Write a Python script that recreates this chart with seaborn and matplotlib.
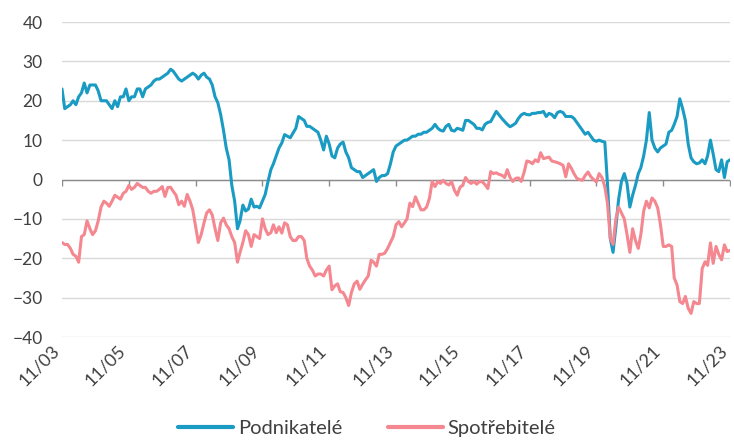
import pandas as pd
import seaborn as sns
import matplotlib.pyplot as plt

# monthly balances, 11/2003 .. 11/2023 (one row = 12 months starting in November)
podnikatele = [
    23, 18, 18.5, 19, 20, 19, 21, 22, 24.5, 22, 24, 24,
    24, 22.5, 20, 20, 20, 19, 18, 20, 18.5, 21, 21, 23,
    20, 21, 21, 23, 23, 21, 23, 23.5, 24, 25, 25.5, 25.5,
    26, 26.5, 27, 28, 27.5, 26.5, 25.5, 25, 25.5, 26, 26.5, 27,
    26.5, 25.5, 26.5, 27, 26, 25.5, 24, 21, 19.5, 16.5, 12.5, 8,
    5, -1.5, -5.5, -12.5, -10.5, -6.5, -8, -7.5, -5, -7, -6.8, -7.2,
    -5.5, -3.8, -0.5, 2.5, 4, 6, 8, 9.3, 11.4, 11, 10.6, 11.8,
    13, 16, 15.5, 15, 13.5, 13.5, 13, 12.5, 12, 10, 7.5, 11,
    9, 6, 5.5, 8, 9, 9.5, 7, 5.5, 3, 2.5, 2, 2,
    0.5, 1, 1.5, 2, 2.5, -0.5, 0.5, 1, 1, 1.5, 4, 7,
    8.5, 9, 9.5, 10, 10, 10.5, 11, 11, 11.5, 11.5, 12, 12,
    12.5, 13, 14, 13, 12.5, 12.3, 13.5, 14, 12.5, 12.3, 13, 12.8,
    12.5, 15, 15, 14.5, 14, 13, 13, 12.6, 14, 14.5, 14.7, 16,
    17.3, 16.4, 15.5, 14.7, 14, 13.4, 13.8, 14.3, 15.5, 16.4, 16.8, 16.5,
    16.4, 16.8, 16.8, 17, 17, 17.3, 16, 16.8, 16.5, 15.7, 17, 17.3,
    17, 16, 16, 16, 15.5, 14.5, 13.5, 12.5, 11.5, 12, 11, 10,
    9.7, 10, 9.7, 9.5, -1, -15, -18.5, -12, -5, -0.5, 1.5, -1,
    -7, -4, -1.5, 1.5, 3, 6, 10, 17, 10, 8, 7, 8,
    8.5, 9, 12, 12.5, 14, 16, 20.5, 18, 15, 9, 5.5, 4.5,
    4, 4.2, 5, 4, 6, 10, 6.5, 2.5, 2, 5, 0.5, 4.5,
    5,
]

spotrebitele = [
    -16, -16.5, -16.5, -17.5, -19, -19.5, -21, -14.5, -14, -10.5, -12.5, -14,
    -13, -10.5, -7, -5.5, -6, -6.8, -5.5, -4, -4.5, -5, -3.5, -3,
    -1.5, -2.5, -2, -1, -1.5, -2, -2, -3, -3.5, -3, -3, -2.5,
    -1.8, -4.3, -2, -2, -3, -4, -6.4, -5.5, -6.8, -3.8, -5.5, -7.7,
    -12, -16, -14, -11, -8.5, -7.7, -9, -12.5, -15.5, -11, -9.8, -11.5,
    -12.5, -14.5, -16, -21, -18.5, -16, -13, -14, -17, -14, -14.5, -15,
    -10, -12.5, -14, -13.5, -11.5, -13.5, -12, -13.6, -11, -11.5, -14.5, -15.5,
    -15.5, -14.5, -14.5, -15.5, -20, -22, -23, -24.5, -24, -24, -24.5, -23,
    -22, -28, -27, -26.5, -28.5, -28.7, -30, -32, -28.7, -26.5, -25.8, -27.9,
    -26.6, -25.5, -24.5, -20.5, -21, -22, -19, -19, -18.7, -17.5, -16, -14.5,
    -11.5, -10.7, -12, -11, -10, -6, -6.9, -4.4, -6, -7.7, -7.7, -7,
    -4.8, -0.5, -1.8, -0.5, -1, -0.2, -1, -1.4, -0.5, -2.7, -4, -2,
    -1.4, 0.5, -0.5, -1, -0.5, -1.2, -0.5, -0.6, -1.3, -2.3, 2, 1.5,
    1.7, 1.3, 1.1, 0.5, 2.5, 0.5, -0.5, 0.3, 0.4, -0.5, 1.8, 4.7,
    4.5, 4, 5, 4.5, 6.8, 5.3, 5.5, 5.7, 4.7, 4.5, 4.3, 4,
    3.6, 0.7, 4, 2.8, 1.5, 0.3, 0, -0.2, 1, 1.9, 0.7, 0,
    -0.6, 1.5, 0.5, -1.8, -6, -15, -16.5, -10, -7, -8.5, -10, -14,
    -18.5, -12.5, -15.5, -17.5, -14, -8, -5.5, -7.2, -4.7, -5.5, -7.2, -11.4,
    -17, -17, -16.6, -17, -25, -26.8, -31, -31.5, -29.7, -32.7, -34, -31,
    -31.5, -31.5, -22.6, -20.9, -21.8, -16.1, -21.3, -17, -19, -20.4, -16.6, -18.3,
    -18,
]

series_names = ['Podnikatelé', 'Spotřebitelé']
colors = ['#1a9bc3', '#f4878f']
y_ticks = [-40, -30, -20, -10, 0, 10, 20, 30, 40]

dates = pd.date_range('2003-11-01', periods=len(podnikatele), freq='MS')
tick_dates = pd.date_range('2003-11-01', '2023-11-01', freq='24MS')

df = pd.DataFrame({'date': dates,
                   series_names[0]: podnikatele,
                   series_names[1]: spotrebitele})
df = df.melt(id_vars='date', var_name='serie', value_name='saldo')

sns.set_theme(style='white')
plt.rcParams['font.family'] = ['Lato', 'DejaVu Sans']
text_color = '#404040'

fig = plt.figure(figsize=(7.34, 4.44), dpi=100)
ax = fig.add_axes([62 / 734, 1 - 337 / 444, 668 / 734, 315 / 444])

sns.lineplot(data=df, x='date', y='saldo', hue='serie', hue_order=series_names,
             palette=colors, linewidth=2.2, ax=ax)

# grid + zero axis with small tick marks
ax.set_ylim(-40, 40)
ax.set_yticks(y_ticks)
ax.yaxis.grid(True, color='#d9d9d9', linewidth=1)
ax.xaxis.grid(False)
ax.set_axisbelow(True)
ax.axhline(0, color='#8c8c8c', linewidth=1, zorder=1.5)
ax.plot(tick_dates, [0] * len(tick_dates), linestyle='none', marker=3,
        markersize=4, markeredgewidth=1, color='#8c8c8c', zorder=1.5)
for s in ax.spines.values():
    s.set_visible(False)

ax.set_xlim(dates[0], dates[-1])
ax.set_xticks(tick_dates)
ax.set_xticklabels([d.strftime('%m/%y') for d in tick_dates])
ax.tick_params(axis='x', length=0, pad=4, labelsize=13, labelcolor=text_color,
               labelrotation=45)
for lab in ax.get_xticklabels():
    lab.set_ha('right')
ax.tick_params(axis='y', length=0, pad=14, labelsize=12.5, labelcolor=text_color)
ax.set_xlabel('')
ax.set_ylabel('')

handles, labels = ax.get_legend_handles_labels()
ax.get_legend().remove()
leg = fig.legend(handles, labels, loc='lower center', bbox_to_anchor=(0.5, -0.025),
                 ncol=2, frameon=False, fontsize=14.5, handlelength=2.7,
                 handletextpad=0.25, columnspacing=2.3)
for t in leg.get_texts():
    t.set_color(text_color)
for h in leg.legend_handles:
    h.set_linewidth(3)

fig.savefig('out.png', dpi=100)
